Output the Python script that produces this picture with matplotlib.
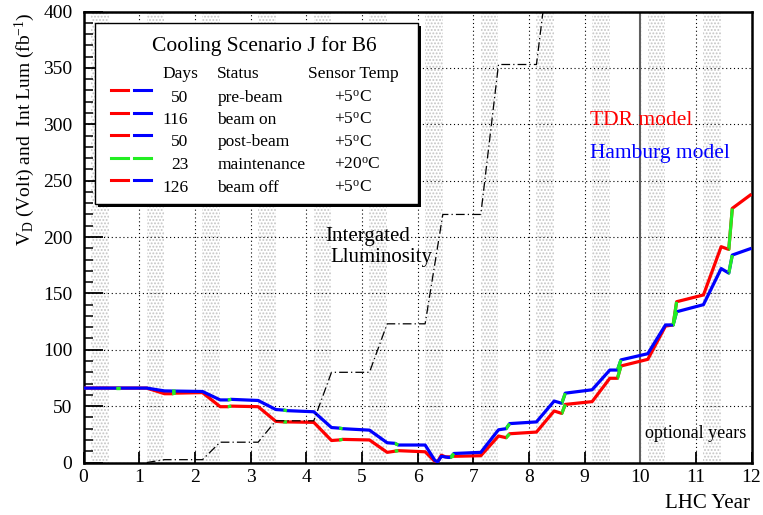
import numpy as np
import matplotlib
matplotlib.use("Agg")
from matplotlib import pyplot as plt
from matplotlib.patches import Rectangle
from matplotlib.lines import Line2D
from matplotlib.ticker import MultipleLocator

# cooling scenario J, one LHC year
days = [50, 116, 50, 23, 126]
status = ["pre-beam", "beam on", "post-beam", "maintenance", "beam off"]
sensor_temp = ["+5", "+5", "+5", "+20", "+5"]

# integrated luminosity (fb^-1)
lumi_x = [1.137, 1.455, 2.137, 2.455, 3.137, 3.455, 4.137, 4.455, 5.137, 5.455,
          6.137, 6.455, 7.137, 7.455, 8.137, 8.455]
lumi_y = [0, 2.5, 2.5, 18, 18, 37, 37, 80, 80, 123, 123, 220, 220, 353, 353, 480]

# depletion voltage, TDR model
tdr_x = [0, 1.137, 1.455, 1.592, 1.655, 2.137, 2.455, 2.592, 2.655, 3.137, 3.455,
         3.592, 3.655, 4.137, 4.455, 4.592, 4.655, 5.137, 5.455, 5.592, 5.655,
         6.137, 6.30, 6.36, 6.43, 6.50, 6.592, 6.655, 7.137, 7.455, 7.592, 7.655,
         8.137, 8.455, 8.592, 8.655, 9.137, 9.455, 9.592, 9.655, 10.137, 10.455,
         10.592, 10.655, 11.137, 11.455, 11.592, 11.655, 12]
tdr_y = [66, 66, 61, 61, 61.5, 62, 49.5, 49.5, 50, 49.5, 36.5,
         36, 36, 35.6, 19.5, 20, 20.5, 20, 9, 10, 10.5,
         9.5, 1.5, 0.5, 6.5, 5, 5, 5.5, 6, 23.5, 22, 25.5,
         27, 45.7, 43.5, 51.5, 54, 74.7, 74.7, 85.6, 91.5, 121,
         122, 142.6, 148.6, 191.4, 189, 225.4, 238]

# depletion voltage, Hamburg model
ham_x = [0, 1.137, 1.455, 2.137, 2.455, 2.592, 2.655, 3.137, 3.455, 3.592, 3.655,
         4.137, 4.455, 4.592, 4.655, 5.137, 5.455, 5.592, 5.655, 6.137, 6.31,
         6.36, 6.43, 6.55, 6.592, 6.655, 7.137, 7.455, 7.592, 7.655, 8.137,
         8.455, 8.592, 8.655, 9.137, 9.455, 9.592, 9.655, 10.137, 10.455,
         10.592, 10.655, 11.137, 11.455, 11.592, 11.655, 12]
ham_y = [66, 66, 63.5, 63, 55.5, 55.5, 56, 55, 47, 46.5, 46,
         45, 31, 30.5, 30, 28.7, 17.5, 17, 15.5, 15.5, 2,
         0.5, 5.5, 4.5, 4.5, 8, 9, 29, 30, 34.5, 36,
         54.5, 52.5, 61.5, 64.5, 82, 82, 91, 96.5, 122,
         122, 133.7, 140, 172, 168, 184, 190]

n_years = 12

plt.rcParams['font.family'] = ['Liberation Serif', 'DejaVu Serif']
plt.rcParams['mathtext.fontset'] = 'custom'
plt.rcParams['mathtext.rm'] = 'Liberation Serif'
plt.rcParams['mathtext.it'] = 'Liberation Serif:italic'
plt.rcParams['hatch.linewidth'] = 0.9

W, H = 763, 515
fig = plt.figure(figsize=(W / 100, H / 100), dpi=100)
ax = fig.add_axes([83.5 / W, 1 - 462.5 / H, 668 / W, 451 / H])


def fxy(x, y):
    # figure fraction from pixel position (origin top left)
    return x / W, 1 - y / H


# season boundaries in years
bounds = np.cumsum([0] + days) / 365.0
on0, on1 = bounds[1], bounds[2]
m0, m1 = bounds[3], bounds[4]

# beam-on periods
for k in range(n_years):
    ax.axvspan(k + on0, k + on1, facecolor='white', edgecolor='#c4c4c4',
               hatch='.....', lw=0, zorder=0)

ax.set_axisbelow(True)
ax.grid(True, color='black', linestyle=(0, (1, 2.5)), linewidth=0.8)
ax.axvline(10, color='#606060', lw=1.5, zorder=1)


def draw_model(x, y, color):
    x = np.asarray(x, float)
    y = np.asarray(y, float)
    ax.plot(x, y, color=color, lw=2.3, zorder=3, solid_capstyle='butt')
    # maintenance periods at +20C in green
    for k in range(n_years):
        a, b = k + m0, k + m1
        inside = (x > a) & (x < b)
        sx = np.concatenate([[a], x[inside], [b]])
        sy = np.interp(sx, x, y)
        ax.plot(sx, sy, color='#22ee22', lw=2.3, zorder=3.5, solid_capstyle='butt')


draw_model(tdr_x, tdr_y, 'red')
draw_model(ham_x, ham_y, 'blue')

ax.plot(lumi_x, lumi_y, color='black', lw=0.9, linestyle=(0, (7, 2.5, 1, 2.5)), zorder=4)

ax.set_xlim(0, 12)
ax.set_ylim(0, 400)
ax.xaxis.set_major_locator(MultipleLocator(1))
ax.yaxis.set_major_locator(MultipleLocator(50))
ax.yaxis.set_minor_locator(MultipleLocator(10))
ax.tick_params(axis='x', which='major', direction='in', length=8, width=1.3,
               pad=5, labelsize=14)
ax.tick_params(axis='y', which='major', direction='in', length=14, width=1.3,
               pad=8, labelsize=14)
ax.tick_params(axis='y', which='minor', direction='in', length=6.5, width=1.1)
for sp in ax.spines.values():
    sp.set_linewidth(1.8)

ax.text(10.09, 21.7, 'optional years', fontsize=13)
ax.text(9.1, 299, 'TDR model', fontsize=15.5, color='red')
ax.text(9.1, 270, 'Hamburg model', fontsize=15.5, color='blue')
ax.text(4.34, 196.5, 'Intergated', fontsize=15)
ax.text(4.43, 177.8, 'Lluminosity', fontsize=15)

fig.text(*fxy(750, 508), 'LHC Year', fontsize=15, ha='right', va='baseline')
fig.text(*fxy(25, 12), r'V$_{\mathrm{D}}$ (Volt) and  Int Lum (fb$^{\mathrm{-1}}$)',
         fontsize=14, rotation=90, ha='center', va='top')

# legend box with shadow
bx0, by0, bx1, by1 = 95, 22.7, 418, 204
x0, y0 = fxy(bx0, by1)
bw, bh = (bx1 - bx0) / W, (by1 - by0) / H
fig.add_artist(Rectangle((x0 + 3 / W, y0 - 3 / H), bw, bh, transform=fig.transFigure,
                         facecolor='black', edgecolor='black', lw=0, zorder=5))
fig.add_artist(Rectangle((x0, y0), bw, bh, transform=fig.transFigure,
                         facecolor='white', edgecolor='black', lw=1.0, zorder=5.1))

fig.text(*fxy(264, 51), 'Cooling Scenario J for B6', fontsize=15.5, ha='center',
         va='baseline', zorder=6)
fig.text(*fxy(162.7, 78), 'Days', fontsize=12.5, va='baseline', zorder=6)
fig.text(*fxy(217.3, 78), 'Status', fontsize=12.5, va='baseline', zorder=6)
fig.text(*fxy(307.7, 78), 'Sensor Temp', fontsize=12.5, va='baseline', zorder=6)

row_y = [101.5, 124, 146.5, 169, 191.5]
for i in range(len(days)):
    yb = row_y[i]
    fig.text(*fxy(188.3, yb), str(days[i]), fontsize=12.5, ha='right',
             va='baseline', zorder=6)
    fig.text(*fxy(217.3, yb), status[i], fontsize=12.5, va='baseline', zorder=6)
    fig.text(*fxy(334, yb), sensor_temp[i] + r'$^{\mathrm{o}}$C', fontsize=12.5,
             va='baseline', zorder=6)
    c1, c2 = ('#22ee22', '#22ee22') if status[i] == 'maintenance' else ('red', 'blue')
    ly = yb - 11.5
    for c, (xa, xb) in [(c1, (111, 128.3)), (c2, (134.3, 151))]:
        p, q = fxy(xa, ly), fxy(xb, ly)
        fig.add_artist(Line2D([p[0], q[0]], [p[1], q[1]], color=c, lw=2.2,
                              transform=fig.transFigure, zorder=6))

fig.savefig('out.png', dpi=100)
